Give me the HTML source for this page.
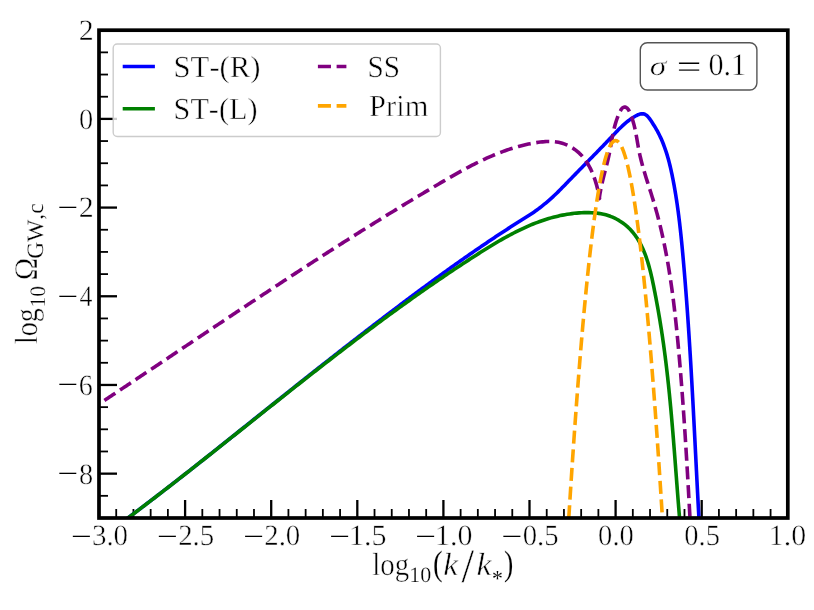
<!DOCTYPE html>
<html><head><meta charset="utf-8"><title>plot</title>
<style>
html,body{margin:0;padding:0;background:#fff;}
body{width:814px;height:610px;overflow:hidden;}
svg{display:block;will-change:transform;}
text{font-family:"Liberation Serif",serif;fill:#000;text-rendering:geometricPrecision;font-kerning:none;white-space:pre;stroke:#fff;stroke-width:0.5px;vector-effect:non-scaling-stroke;}
.sl{stroke-width:0.95px;}
.it{font-style:italic;}
</style></head><body>
<svg width="814" height="610" viewBox="0 0 814 610">
<rect width="814" height="610" fill="#fff"/>
<defs><clipPath id="ax"><rect x="99.0" y="30.2" width="688.8" height="487.8"/></clipPath></defs>
<g stroke="#000" fill="none">
<line x1="99.00" y1="518.00" x2="99.00" y2="500.00" stroke-width="2.30"/>
<line x1="116.22" y1="518.00" x2="116.22" y2="509.00" stroke-width="1.80"/>
<line x1="133.44" y1="518.00" x2="133.44" y2="509.00" stroke-width="1.80"/>
<line x1="150.66" y1="518.00" x2="150.66" y2="509.00" stroke-width="1.80"/>
<line x1="167.88" y1="518.00" x2="167.88" y2="509.00" stroke-width="1.80"/>
<line x1="185.10" y1="518.00" x2="185.10" y2="500.00" stroke-width="2.30"/>
<line x1="202.32" y1="518.00" x2="202.32" y2="509.00" stroke-width="1.80"/>
<line x1="219.54" y1="518.00" x2="219.54" y2="509.00" stroke-width="1.80"/>
<line x1="236.76" y1="518.00" x2="236.76" y2="509.00" stroke-width="1.80"/>
<line x1="253.98" y1="518.00" x2="253.98" y2="509.00" stroke-width="1.80"/>
<line x1="271.20" y1="518.00" x2="271.20" y2="500.00" stroke-width="2.30"/>
<line x1="288.42" y1="518.00" x2="288.42" y2="509.00" stroke-width="1.80"/>
<line x1="305.64" y1="518.00" x2="305.64" y2="509.00" stroke-width="1.80"/>
<line x1="322.86" y1="518.00" x2="322.86" y2="509.00" stroke-width="1.80"/>
<line x1="340.08" y1="518.00" x2="340.08" y2="509.00" stroke-width="1.80"/>
<line x1="357.30" y1="518.00" x2="357.30" y2="500.00" stroke-width="2.30"/>
<line x1="374.52" y1="518.00" x2="374.52" y2="509.00" stroke-width="1.80"/>
<line x1="391.74" y1="518.00" x2="391.74" y2="509.00" stroke-width="1.80"/>
<line x1="408.96" y1="518.00" x2="408.96" y2="509.00" stroke-width="1.80"/>
<line x1="426.18" y1="518.00" x2="426.18" y2="509.00" stroke-width="1.80"/>
<line x1="443.40" y1="518.00" x2="443.40" y2="500.00" stroke-width="2.30"/>
<line x1="460.62" y1="518.00" x2="460.62" y2="509.00" stroke-width="1.80"/>
<line x1="477.84" y1="518.00" x2="477.84" y2="509.00" stroke-width="1.80"/>
<line x1="495.06" y1="518.00" x2="495.06" y2="509.00" stroke-width="1.80"/>
<line x1="512.28" y1="518.00" x2="512.28" y2="509.00" stroke-width="1.80"/>
<line x1="529.50" y1="518.00" x2="529.50" y2="500.00" stroke-width="2.30"/>
<line x1="546.72" y1="518.00" x2="546.72" y2="509.00" stroke-width="1.80"/>
<line x1="563.94" y1="518.00" x2="563.94" y2="509.00" stroke-width="1.80"/>
<line x1="581.16" y1="518.00" x2="581.16" y2="509.00" stroke-width="1.80"/>
<line x1="598.38" y1="518.00" x2="598.38" y2="509.00" stroke-width="1.80"/>
<line x1="615.60" y1="518.00" x2="615.60" y2="500.00" stroke-width="2.30"/>
<line x1="632.82" y1="518.00" x2="632.82" y2="509.00" stroke-width="1.80"/>
<line x1="650.04" y1="518.00" x2="650.04" y2="509.00" stroke-width="1.80"/>
<line x1="667.26" y1="518.00" x2="667.26" y2="509.00" stroke-width="1.80"/>
<line x1="684.48" y1="518.00" x2="684.48" y2="509.00" stroke-width="1.80"/>
<line x1="701.70" y1="518.00" x2="701.70" y2="500.00" stroke-width="2.30"/>
<line x1="718.92" y1="518.00" x2="718.92" y2="509.00" stroke-width="1.80"/>
<line x1="736.14" y1="518.00" x2="736.14" y2="509.00" stroke-width="1.80"/>
<line x1="753.36" y1="518.00" x2="753.36" y2="509.00" stroke-width="1.80"/>
<line x1="770.58" y1="518.00" x2="770.58" y2="509.00" stroke-width="1.80"/>
<line x1="787.80" y1="518.00" x2="787.80" y2="500.00" stroke-width="2.30"/>
<line x1="99.00" y1="518.00" x2="108.00" y2="518.00" stroke-width="1.80"/>
<line x1="99.00" y1="495.83" x2="108.00" y2="495.83" stroke-width="1.80"/>
<line x1="99.00" y1="473.65" x2="117.00" y2="473.65" stroke-width="2.30"/>
<line x1="99.00" y1="451.48" x2="108.00" y2="451.48" stroke-width="1.80"/>
<line x1="99.00" y1="429.31" x2="108.00" y2="429.31" stroke-width="1.80"/>
<line x1="99.00" y1="407.14" x2="108.00" y2="407.14" stroke-width="1.80"/>
<line x1="99.00" y1="384.96" x2="117.00" y2="384.96" stroke-width="2.30"/>
<line x1="99.00" y1="362.79" x2="108.00" y2="362.79" stroke-width="1.80"/>
<line x1="99.00" y1="340.62" x2="108.00" y2="340.62" stroke-width="1.80"/>
<line x1="99.00" y1="318.45" x2="108.00" y2="318.45" stroke-width="1.80"/>
<line x1="99.00" y1="296.27" x2="117.00" y2="296.27" stroke-width="2.30"/>
<line x1="99.00" y1="274.10" x2="108.00" y2="274.10" stroke-width="1.80"/>
<line x1="99.00" y1="251.93" x2="108.00" y2="251.93" stroke-width="1.80"/>
<line x1="99.00" y1="229.75" x2="108.00" y2="229.75" stroke-width="1.80"/>
<line x1="99.00" y1="207.58" x2="117.00" y2="207.58" stroke-width="2.30"/>
<line x1="99.00" y1="185.41" x2="108.00" y2="185.41" stroke-width="1.80"/>
<line x1="99.00" y1="163.24" x2="108.00" y2="163.24" stroke-width="1.80"/>
<line x1="99.00" y1="141.06" x2="108.00" y2="141.06" stroke-width="1.80"/>
<line x1="99.00" y1="118.89" x2="117.00" y2="118.89" stroke-width="2.30"/>
<line x1="99.00" y1="96.72" x2="108.00" y2="96.72" stroke-width="1.80"/>
<line x1="99.00" y1="74.55" x2="108.00" y2="74.55" stroke-width="1.80"/>
<line x1="99.00" y1="52.37" x2="108.00" y2="52.37" stroke-width="1.80"/>
<line x1="99.00" y1="30.20" x2="117.00" y2="30.20" stroke-width="2.30"/>
</g>
<g clip-path="url(#ax)" fill="none" stroke-width="3.6" stroke-linejoin="round">
<path d="M96.00,539.81 L97.82,539.21 L99.55,538.46 L101.20,537.58 L102.79,536.60 L104.33,535.53 L105.85,534.42 L107.35,533.28 L108.85,532.13 L110.35,531.00 L111.86,529.87 L113.37,528.75 L114.88,527.64 L116.40,526.52 L117.92,525.41 L119.43,524.30 L120.94,523.18 L122.46,522.07 L123.97,520.95 L125.47,519.82 L126.98,518.70 L128.48,517.57 L129.99,516.44 L131.49,515.31 L132.99,514.18 L134.49,513.04 L135.99,511.91 L137.49,510.77 L138.99,509.63 L140.49,508.50 L141.98,507.36 L143.48,506.22 L144.98,505.08 L146.47,503.94 L147.97,502.80 L149.46,501.66 L150.96,500.51 L152.45,499.37 L153.94,498.23 L155.44,497.08 L156.93,495.94 L158.42,494.79 L159.91,493.64 L161.40,492.50 L162.89,491.35 L164.38,490.20 L165.87,489.05 L167.35,487.90 L168.84,486.75 L170.33,485.59 L171.81,484.44 L173.30,483.29 L174.78,482.13 L176.27,480.98 L177.75,479.82 L179.23,478.66 L180.72,477.51 L182.20,476.35 L183.68,475.19 L185.16,474.03 L186.64,472.87 L188.12,471.71 L189.60,470.55 L191.08,469.38 L192.55,468.22 L194.03,467.06 L195.51,465.89 L196.98,464.73 L198.46,463.56 L199.94,462.40 L201.41,461.23 L202.89,460.06 L204.36,458.90 L205.83,457.73 L207.31,456.56 L208.78,455.39 L210.25,454.22 L211.73,453.05 L213.20,451.88 L214.67,450.71 L216.14,449.54 L217.61,448.37 L219.09,447.20 L220.56,446.03 L222.03,444.85 L223.50,443.68 L224.97,442.51 L226.44,441.34 L227.91,440.16 L229.38,438.99 L230.85,437.82 L232.32,436.64 L233.79,435.47 L235.26,434.29 L236.73,433.12 L238.19,431.95 L239.66,430.77 L241.13,429.60 L242.60,428.42 L244.07,427.25 L245.54,426.07 L247.01,424.90 L248.48,423.72 L249.95,422.55 L251.41,421.38 L252.88,420.20 L254.35,419.03 L255.82,417.85 L257.29,416.68 L258.76,415.50 L260.23,414.33 L261.70,413.16 L263.17,411.98 L264.64,410.81 L266.11,409.63 L267.58,408.46 L269.05,407.29 L270.51,406.11 L271.98,404.94 L273.46,403.77 L274.93,402.59 L276.40,401.42 L277.87,400.25 L279.34,399.08 L280.81,397.90 L282.28,396.73 L283.75,395.56 L285.22,394.39 L286.69,393.22 L288.16,392.05 L289.64,390.88 L291.11,389.71 L292.58,388.53 L294.05,387.36 L295.53,386.19 L297.00,385.03 L298.47,383.86 L299.94,382.69 L301.42,381.52 L302.89,380.35 L304.37,379.18 L305.84,378.01 L307.31,376.85 L308.79,375.68 L310.26,374.51 L311.74,373.35 L313.22,372.18 L314.69,371.02 L316.17,369.85 L317.64,368.69 L319.12,367.52 L320.60,366.36 L322.08,365.19 L323.55,364.03 L325.03,362.87 L326.51,361.71 L327.99,360.54 L329.47,359.38 L330.95,358.22 L332.43,357.06 L333.91,355.90 L335.39,354.74 L336.87,353.58 L338.35,352.42 L339.83,351.26 L341.31,350.11 L342.80,348.95 L344.28,347.79 L345.76,346.64 L347.25,345.48 L348.73,344.33 L350.22,343.17 L351.70,342.02 L353.19,340.87 L354.67,339.71 L356.16,338.56 L357.65,337.41 L359.13,336.26 L360.62,335.11 L362.11,333.96 L363.60,332.81 L365.09,331.66 L366.58,330.51 L368.07,329.37 L369.56,328.22 L371.05,327.07 L372.54,325.93 L374.03,324.78 L375.53,323.64 L377.02,322.50 L378.51,321.35 L380.01,320.21 L381.50,319.07 L383.00,317.93 L384.50,316.79 L385.99,315.65 L387.49,314.52 L388.99,313.38 L390.49,312.24 L391.98,311.11 L393.48,309.97 L394.98,308.84 L396.49,307.70 L397.99,306.57 L399.49,305.44 L400.99,304.31 L402.50,303.18 L404.00,302.05 L405.50,300.92 L407.01,299.79 L408.52,298.67 L410.02,297.54 L411.53,296.42 L413.04,295.29 L414.55,294.17 L416.06,293.05 L417.57,291.93 L419.08,290.81 L420.59,289.69 L422.10,288.57 L423.62,287.45 L425.13,286.34 L426.65,285.22 L428.16,284.11 L429.68,283.00 L431.20,281.89 L432.72,280.78 L434.23,279.67 L435.76,278.56 L437.28,277.46 L438.80,276.35 L440.32,275.25 L441.85,274.15 L443.37,273.05 L444.90,271.95 L446.43,270.85 L447.95,269.76 L449.48,268.66 L451.01,267.57 L452.54,266.48 L454.08,265.39 L455.61,264.30 L457.14,263.21 L458.68,262.13 L460.22,261.05 L461.75,259.96 L463.29,258.88 L464.83,257.80 L466.37,256.73 L467.92,255.65 L469.46,254.58 L471.00,253.51 L472.55,252.44 L474.10,251.37 L475.65,250.30 L477.20,249.24 L478.75,248.18 L480.30,247.12 L481.85,246.06 L483.41,245.00 L484.96,243.95 L486.52,242.90 L488.08,241.85 L489.64,240.80 L491.20,239.75 L492.77,238.71 L494.33,237.66 L495.90,236.62 L497.46,235.59 L499.03,234.55 L500.60,233.52 L502.18,232.49 L503.75,231.46 L505.33,230.43 L506.90,229.41 L508.48,228.38 L510.06,227.36 L511.65,226.35 L513.23,225.33 L514.82,224.32 L516.40,223.31 L517.99,222.30 L519.59,221.29 L521.18,220.29 L522.77,219.29 L524.37,218.29 L525.96,217.29 L527.55,216.28 L529.14,215.27 L530.72,214.24 L532.28,213.20 L533.84,212.14 L535.38,211.06 L536.90,209.97 L538.42,208.85 L539.92,207.72 L541.41,206.57 L542.88,205.40 L544.35,204.22 L545.80,203.02 L547.23,201.81 L548.66,200.58 L550.07,199.34 L551.47,198.09 L552.86,196.82 L554.24,195.53 L555.60,194.24 L556.96,192.93 L558.30,191.61 L559.64,190.29 L560.96,188.95 L562.28,187.61 L563.60,186.26 L564.91,184.91 L566.22,183.56 L567.53,182.21 L568.84,180.86 L570.15,179.51 L571.46,178.16 L572.77,176.81 L574.08,175.47 L575.40,174.12 L576.71,172.78 L578.03,171.43 L579.34,170.09 L580.66,168.75 L581.97,167.41 L583.29,166.06 L584.60,164.72 L585.92,163.38 L587.23,162.04 L588.55,160.69 L589.86,159.35 L591.18,158.01 L592.49,156.67 L593.81,155.32 L595.12,153.98 L596.43,152.63 L597.74,151.28 L599.05,149.94 L600.36,148.59 L601.67,147.24 L602.98,145.89 L604.28,144.53 L605.59,143.18 L606.89,141.82 L608.19,140.47 L609.49,139.11 L610.79,137.74 L612.08,136.38 L613.38,135.01 L614.67,133.65 L615.97,132.29 L617.28,130.94 L618.60,129.60 L619.93,128.27 L621.28,126.96 L622.66,125.67 L624.05,124.40 L625.47,123.16 L626.92,121.96 L628.41,120.78 L629.93,119.64 L631.48,118.54 L633.09,117.49 L634.73,116.48 L636.43,115.53 L638.15,114.70 L639.88,114.08 L641.59,113.76 L643.26,113.83 L644.85,114.31 L646.32,115.18 L647.68,116.37 L648.93,117.81 L650.12,119.41 L651.24,121.09 L652.32,122.77 L653.37,124.42 L654.40,126.04 L655.39,127.66 L656.34,129.29 L657.27,130.94 L658.16,132.59 L659.01,134.26 L659.84,135.95 L660.64,137.64 L661.41,139.35 L662.15,141.06 L662.86,142.79 L663.55,144.53 L664.21,146.28 L664.85,148.03 L665.46,149.80 L666.06,151.57 L666.63,153.36 L667.18,155.15 L667.71,156.94 L668.22,158.75 L668.71,160.56 L669.19,162.37 L669.65,164.19 L670.09,166.02 L670.53,167.85 L670.94,169.68 L671.35,171.52 L671.74,173.35 L672.13,175.20 L672.50,177.04 L672.87,178.89 L673.23,180.73 L673.58,182.58 L673.92,184.43 L674.25,186.28 L674.58,188.13 L674.90,189.99 L675.22,191.84 L675.53,193.70 L675.83,195.55 L676.12,197.41 L676.41,199.27 L676.69,201.13 L676.97,202.98 L677.24,204.85 L677.50,206.71 L677.76,208.57 L678.02,210.43 L678.27,212.30 L678.51,214.16 L678.75,216.03 L678.98,217.89 L679.21,219.76 L679.44,221.62 L679.66,223.49 L679.87,225.36 L680.08,227.23 L680.29,229.10 L680.50,230.97 L680.70,232.84 L680.90,234.71 L681.09,236.58 L681.28,238.45 L681.47,240.32 L681.66,242.20 L681.84,244.07 L682.02,245.94 L682.20,247.82 L682.37,249.69 L682.54,251.56 L682.72,253.44 L682.89,255.31 L683.05,257.18 L683.22,259.06 L683.39,260.93 L683.55,262.81 L683.71,264.68 L683.87,266.55 L684.03,268.43 L684.19,270.30 L684.35,272.18 L684.51,274.05 L684.66,275.93 L684.81,277.80 L684.97,279.68 L685.12,281.55 L685.27,283.43 L685.42,285.30 L685.56,287.18 L685.71,289.05 L685.86,290.93 L686.00,292.80 L686.14,294.68 L686.29,296.55 L686.43,298.43 L686.57,300.30 L686.71,302.18 L686.84,304.06 L686.98,305.93 L687.12,307.81 L687.25,309.68 L687.39,311.56 L687.52,313.43 L687.65,315.31 L687.78,317.19 L687.91,319.06 L688.04,320.94 L688.17,322.81 L688.30,324.69 L688.42,326.57 L688.55,328.44 L688.67,330.32 L688.80,332.20 L688.92,334.07 L689.04,335.95 L689.16,337.82 L689.28,339.70 L689.40,341.58 L689.52,343.45 L689.64,345.33 L689.76,347.21 L689.87,349.08 L689.99,350.96 L690.10,352.84 L690.22,354.72 L690.33,356.59 L690.44,358.47 L690.56,360.35 L690.67,362.22 L690.78,364.10 L690.89,365.98 L691.00,367.85 L691.11,369.73 L691.22,371.61 L691.33,373.49 L691.43,375.36 L691.54,377.24 L691.65,379.12 L691.75,381.00 L691.86,382.87 L691.96,384.75 L692.07,386.63 L692.17,388.51 L692.27,390.38 L692.38,392.26 L692.48,394.14 L692.58,396.02 L692.68,397.89 L692.79,399.77 L692.89,401.65 L692.99,403.53 L693.09,405.40 L693.19,407.28 L693.29,409.16 L693.39,411.04 L693.49,412.92 L693.58,414.79 L693.68,416.67 L693.78,418.55 L693.88,420.43 L693.98,422.31 L694.07,424.18 L694.17,426.06 L694.27,427.94 L694.36,429.82 L694.46,431.70 L694.56,433.57 L694.65,435.45 L694.75,437.33 L694.85,439.21 L694.94,441.09 L695.04,442.96 L695.13,444.84 L695.23,446.72 L695.32,448.60 L695.42,450.48 L695.51,452.36 L695.61,454.23 L695.71,456.11 L695.80,457.99 L695.90,459.87 L695.99,461.75 L696.09,463.63 L696.18,465.50 L696.28,467.38 L696.37,469.26 L696.47,471.14 L696.57,473.02 L696.66,474.89 L696.76,476.77 L696.85,478.65 L696.95,480.53 L697.05,482.41 L697.14,484.29 L697.24,486.17 L697.34,488.04 L697.44,489.92 L697.53,491.80 L697.63,493.68 L697.73,495.56 L697.83,497.44 L697.93,499.31 L698.02,501.19 L698.12,503.07 L698.22,504.95 L698.32,506.83 L698.42,508.71 L698.52,510.58 L698.63,512.46 L698.73,514.34 L698.83,516.22 L698.93,518.10 L699.03,519.98 L699.14,521.85 L699.24,523.73 L699.34,525.61 L699.45,527.49 L699.55,529.37 L699.66,531.24 L699.76,533.12 L699.87,535.00" stroke="#0000ff"/>
<path d="M98.30,539.82 L100.24,538.41 L102.18,537.00 L104.13,535.59 L106.07,534.17 L108.00,532.75 L109.94,531.33 L111.87,529.91 L113.81,528.49 L115.74,527.06 L117.67,525.64 L119.60,524.21 L121.52,522.78 L123.45,521.34 L125.37,519.91 L127.29,518.47 L129.21,517.04 L131.13,515.60 L133.04,514.16 L134.96,512.72 L136.87,511.27 L138.78,509.83 L140.69,508.38 L142.60,506.93 L144.51,505.48 L146.42,504.03 L148.32,502.58 L150.23,501.12 L152.13,499.67 L154.03,498.21 L155.93,496.76 L157.83,495.30 L159.73,493.84 L161.62,492.37 L163.52,490.91 L165.41,489.45 L167.31,487.98 L169.20,486.52 L171.09,485.05 L172.98,483.58 L174.87,482.11 L176.76,480.64 L178.64,479.17 L180.53,477.70 L182.41,476.23 L184.30,474.75 L186.18,473.28 L188.06,471.80 L189.95,470.33 L191.83,468.85 L193.71,467.37 L195.59,465.89 L197.47,464.42 L199.34,462.94 L201.22,461.45 L203.10,459.97 L204.97,458.49 L206.85,457.01 L208.72,455.53 L210.60,454.04 L212.47,452.56 L214.35,451.08 L216.22,449.59 L218.09,448.11 L219.96,446.62 L221.84,445.13 L223.71,443.65 L225.58,442.16 L227.45,440.67 L229.32,439.19 L231.19,437.70 L233.06,436.21 L234.93,434.73 L236.80,433.24 L238.67,431.75 L240.53,430.26 L242.40,428.77 L244.27,427.29 L246.14,425.80 L248.01,424.31 L249.88,422.82 L251.74,421.33 L253.61,419.85 L255.48,418.36 L257.35,416.87 L259.22,415.38 L261.09,413.90 L262.95,412.41 L264.82,410.92 L266.69,409.43 L268.56,407.95 L270.43,406.46 L272.30,404.98 L274.17,403.49 L276.04,402.01 L277.91,400.52 L279.78,399.04 L281.65,397.56 L283.52,396.07 L285.39,394.59 L287.27,393.11 L289.14,391.63 L291.01,390.15 L292.88,388.67 L294.76,387.19 L296.63,385.71 L298.51,384.23 L300.38,382.75 L302.26,381.28 L304.14,379.80 L306.01,378.33 L307.89,376.85 L309.77,375.38 L311.65,373.91 L313.53,372.44 L315.41,370.97 L317.29,369.50 L319.18,368.03 L321.06,366.56 L322.94,365.10 L324.83,363.63 L326.71,362.17 L328.60,360.71 L330.49,359.25 L332.38,357.79 L334.27,356.33 L336.16,354.87 L338.05,353.41 L339.94,351.96 L341.84,350.50 L343.73,349.05 L345.63,347.60 L347.53,346.15 L349.43,344.70 L351.33,343.26 L353.23,341.81 L355.13,340.37 L357.04,338.92 L358.94,337.48 L360.85,336.04 L362.75,334.61 L364.66,333.17 L366.57,331.74 L368.49,330.30 L370.40,328.87 L372.31,327.45 L374.23,326.02 L376.15,324.59 L378.07,323.17 L379.99,321.75 L381.91,320.33 L383.84,318.91 L385.76,317.49 L387.69,316.08 L389.62,314.67 L391.55,313.26 L393.48,311.85 L395.42,310.44 L397.35,309.04 L399.29,307.64 L401.23,306.24 L403.17,304.84 L405.12,303.45 L407.06,302.05 L409.01,300.66 L410.96,299.28 L412.91,297.89 L414.86,296.51 L416.82,295.12 L418.78,293.75 L420.73,292.37 L422.70,290.99 L424.66,289.62 L426.63,288.25 L428.59,286.89 L430.56,285.52 L432.54,284.16 L434.51,282.80 L436.49,281.45 L438.47,280.09 L440.45,278.74 L442.43,277.39 L444.42,276.05 L446.40,274.71 L448.39,273.37 L450.39,272.03 L452.38,270.69 L454.38,269.36 L456.38,268.03 L458.38,266.71 L460.39,265.39 L462.40,264.07 L464.41,262.75 L466.42,261.44 L468.44,260.12 L470.46,258.82 L472.48,257.51 L474.50,256.21 L476.53,254.91 L478.56,253.62 L480.59,252.33 L482.63,251.04 L484.66,249.76 L486.71,248.49 L488.76,247.23 L490.81,245.97 L492.86,244.73 L494.92,243.49 L496.99,242.27 L499.06,241.05 L501.14,239.86 L503.22,238.67 L505.31,237.50 L507.40,236.35 L509.50,235.21 L511.61,234.09 L513.73,232.99 L515.85,231.90 L517.98,230.84 L520.11,229.80 L522.26,228.78 L524.41,227.78 L526.57,226.81 L528.74,225.86 L530.92,224.93 L533.11,224.03 L535.31,223.16 L537.52,222.32 L539.73,221.50 L541.96,220.72 L544.20,219.96 L546.45,219.24 L548.71,218.55 L550.98,217.89 L553.26,217.27 L555.55,216.68 L557.86,216.13 L560.17,215.61 L562.50,215.13 L564.84,214.69 L567.20,214.29 L569.57,213.92 L571.95,213.60 L574.34,213.32 L576.75,213.09 L579.17,212.89 L581.61,212.74 L584.06,212.64 L586.51,212.60 L588.96,212.61 L591.42,212.69 L593.86,212.84 L596.29,213.06 L598.70,213.37 L601.09,213.76 L603.46,214.25 L605.79,214.83 L608.09,215.51 L610.34,216.30 L612.55,217.19 L614.72,218.17 L616.83,219.25 L618.89,220.42 L620.88,221.67 L622.82,223.00 L624.69,224.41 L626.49,225.90 L628.22,227.45 L629.87,229.07 L631.44,230.75 L632.95,232.50 L634.38,234.30 L635.74,236.16 L637.04,238.07 L638.27,240.03 L639.45,242.03 L640.56,244.09 L641.62,246.18 L642.63,248.31 L643.58,250.48 L644.49,252.69 L645.35,254.93 L646.17,257.19 L646.95,259.49 L647.69,261.80 L648.39,264.14 L649.06,266.50 L649.70,268.88 L650.32,271.26 L650.90,273.66 L651.47,276.07 L652.01,278.48 L652.53,280.90 L653.04,283.32 L653.53,285.73 L654.02,288.14 L654.49,290.55 L654.96,292.94 L655.42,295.33 L655.88,297.71 L656.32,300.09 L656.76,302.46 L657.20,304.83 L657.62,307.19 L658.04,309.54 L658.45,311.89 L658.86,314.24 L659.26,316.58 L659.65,318.92 L660.03,321.26 L660.41,323.60 L660.79,325.93 L661.16,328.27 L661.52,330.60 L661.87,332.93 L662.23,335.26 L662.57,337.59 L662.91,339.93 L663.24,342.26 L663.57,344.60 L663.90,346.93 L664.21,349.27 L664.53,351.62 L664.83,353.96 L665.14,356.31 L665.44,358.66 L665.73,361.02 L666.02,363.37 L666.31,365.73 L666.59,368.09 L666.86,370.45 L667.13,372.82 L667.40,375.18 L667.67,377.55 L667.93,379.93 L668.18,382.30 L668.44,384.67 L668.68,387.05 L668.93,389.43 L669.17,391.81 L669.41,394.19 L669.65,396.57 L669.88,398.96 L670.11,401.34 L670.33,403.73 L670.56,406.12 L670.78,408.51 L671.00,410.90 L671.21,413.29 L671.43,415.68 L671.64,418.08 L671.84,420.47 L672.05,422.86 L672.25,425.26 L672.46,427.65 L672.66,430.05 L672.86,432.45 L673.05,434.84 L673.25,437.24 L673.44,439.64 L673.63,442.04 L673.82,444.43 L674.01,446.83 L674.20,449.23 L674.39,451.62 L674.58,454.02 L674.76,456.42 L674.95,458.81 L675.13,461.21 L675.31,463.60 L675.50,466.00 L675.68,468.39 L675.86,470.79 L676.04,473.18 L676.23,475.57 L676.41,477.96 L676.59,480.35 L676.77,482.74 L676.96,485.12 L677.14,487.51 L677.32,489.89 L677.51,492.28 L677.69,494.66 L677.88,497.04 L678.06,499.41 L678.25,501.79 L678.44,504.17 L678.63,506.54 L678.82,508.91 L679.01,511.28 L679.20,513.65 L679.40,516.01 L679.60,518.37 L679.79,520.73 L679.99,523.09 L680.20,525.45 L680.40,527.80 L680.61,530.15 L680.81,532.50 L681.02,534.84" stroke="#008000"/>
<path d="M104.43,400.40 L106.11,399.28 L107.79,398.17 L109.47,397.05 L111.15,395.94 L112.83,394.83 L114.51,393.71 L116.19,392.60 L117.86,391.48 L119.54,390.36 L121.22,389.25 L122.89,388.13 L124.57,387.02 L126.25,385.90 L127.92,384.78 L129.60,383.67 L131.27,382.55 L132.95,381.43 L134.62,380.31 L136.30,379.20 L137.97,378.08 L139.65,376.96 L141.32,375.84 L142.99,374.72 L144.67,373.60 L146.34,372.49 L148.02,371.37 L149.69,370.25 L151.36,369.13 L153.03,368.01 L154.71,366.89 L156.38,365.77 L158.05,364.65 L159.73,363.53 L161.40,362.41 L163.07,361.30 L164.74,360.18 L166.41,359.06 L168.09,357.94 L169.76,356.82 L171.43,355.70 L173.10,354.58 L174.77,353.46 L176.44,352.34 L178.12,351.22 L179.79,350.10 L181.46,348.98 L183.13,347.86 L184.80,346.74 L186.47,345.62 L188.14,344.50 L189.81,343.39 L191.49,342.27 L193.16,341.15 L194.83,340.03 L196.50,338.91 L198.17,337.79 L199.84,336.67 L201.51,335.56 L203.18,334.44 L204.86,333.32 L206.53,332.20 L208.20,331.08 L209.87,329.97 L211.54,328.85 L213.21,327.73 L214.89,326.61 L216.56,325.50 L218.23,324.38 L219.90,323.27 L221.57,322.15 L223.25,321.03 L224.92,319.92 L226.59,318.80 L228.26,317.69 L229.94,316.57 L231.61,315.46 L233.28,314.34 L234.96,313.23 L236.63,312.12 L238.30,311.00 L239.98,309.89 L241.65,308.78 L243.33,307.66 L245.00,306.55 L246.67,305.44 L248.35,304.33 L250.02,303.22 L251.70,302.11 L253.37,301.00 L255.05,299.89 L256.73,298.78 L258.40,297.67 L260.08,296.56 L261.76,295.45 L263.43,294.34 L265.11,293.24 L266.79,292.13 L268.47,291.02 L270.14,289.92 L271.82,288.81 L273.50,287.71 L275.18,286.60 L276.86,285.50 L278.54,284.39 L280.22,283.29 L281.90,282.19 L283.58,281.09 L285.26,279.98 L286.94,278.88 L288.62,277.78 L290.31,276.68 L291.99,275.58 L293.67,274.48 L295.35,273.38 L297.04,272.29 L298.72,271.19 L300.41,270.09 L302.09,269.00 L303.78,267.90 L305.46,266.81 L307.15,265.71 L308.83,264.62 L310.52,263.53 L312.21,262.43 L313.90,261.34 L315.59,260.25 L317.27,259.16 L318.96,258.07 L320.65,256.98 L322.34,255.89 L324.03,254.81 L325.73,253.72 L327.42,252.63 L329.11,251.55 L330.80,250.46 L332.50,249.38 L334.19,248.29 L335.88,247.21 L337.58,246.13 L339.28,245.05 L340.97,243.97 L342.67,242.89 L344.37,241.81 L346.06,240.73 L347.76,239.66 L349.46,238.58 L351.16,237.50 L352.86,236.43 L354.56,235.36 L356.26,234.28 L357.96,233.21 L359.67,232.14 L361.37,231.07 L363.07,230.00 L364.78,228.93 L366.48,227.86 L368.19,226.80 L369.90,225.73 L371.60,224.67 L373.31,223.60 L375.02,222.54 L376.73,221.48 L378.44,220.42 L380.15,219.36 L381.86,218.30 L383.57,217.24 L385.29,216.18 L387.00,215.12 L388.71,214.07 L390.43,213.01 L392.15,211.96 L393.86,210.91 L395.58,209.86 L397.30,208.81 L399.02,207.76 L400.74,206.71 L402.46,205.66 L404.18,204.62 L405.90,203.57 L407.62,202.53 L409.35,201.48 L411.07,200.44 L412.80,199.40 L414.52,198.36 L416.25,197.32 L417.98,196.29 L419.70,195.25 L421.43,194.22 L423.16,193.18 L424.90,192.15 L426.63,191.12 L428.36,190.09 L430.09,189.06 L431.83,188.03 L433.57,187.00 L435.30,185.98 L437.04,184.95 L438.78,183.93 L440.52,182.91 L442.26,181.89 L444.00,180.87 L445.74,179.85 L447.49,178.84 L449.23,177.83 L450.98,176.82 L452.73,175.82 L454.48,174.82 L456.24,173.83 L457.99,172.85 L459.75,171.87 L461.52,170.89 L463.28,169.92 L465.05,168.97 L466.83,168.01 L468.60,167.07 L470.38,166.14 L472.17,165.21 L473.95,164.30 L475.75,163.39 L477.54,162.50 L479.34,161.62 L481.15,160.75 L482.96,159.89 L484.78,159.04 L486.60,158.21 L488.43,157.39 L490.26,156.58 L492.10,155.79 L493.94,155.01 L495.79,154.25 L497.65,153.51 L499.51,152.78 L501.38,152.06 L503.26,151.37 L505.14,150.69 L507.03,150.03 L508.93,149.39 L510.84,148.77 L512.75,148.17 L514.67,147.58 L516.60,147.02 L518.54,146.48 L520.49,145.96 L522.44,145.46 L524.40,144.98 L526.38,144.53 L528.36,144.10 L530.35,143.69 L532.35,143.31 L534.36,142.95 L536.37,142.62 L538.40,142.32 L540.43,142.06 L542.46,141.84 L544.49,141.67 L546.51,141.55 L548.53,141.50 L550.54,141.51 L552.54,141.59 L554.53,141.75 L556.50,141.99 L558.45,142.32 L560.38,142.74 L562.28,143.26 L564.16,143.88 L566.01,144.58 L567.82,145.38 L569.60,146.26 L571.33,147.23 L573.03,148.27 L574.68,149.40 L576.28,150.59 L577.82,151.86 L579.31,153.20 L580.75,154.61 L582.12,156.08 L583.43,157.61 L584.67,159.19 L585.86,160.83 L586.98,162.52 L588.05,164.25 L589.06,166.02 L590.02,167.83 L590.93,169.67 L591.79,171.54 L592.60,173.43 L593.37,175.34 L594.09,177.27 L594.76,179.21 L595.40,181.16 L596.00,183.11 L596.56,185.06 L597.08,187.01 L597.57,188.95 L598.03,190.87 L598.45,192.79 L598.85,194.68 L599.22,196.55 L599.56,198.40 L599.29,198.54 L599.52,196.80 L599.77,195.05 L600.06,193.31 L600.36,191.57 L600.69,189.83 L601.03,188.08 L601.40,186.34 L601.78,184.60 L602.17,182.86 L602.58,181.12 L603.00,179.38 L603.43,177.65 L603.87,175.91 L604.31,174.17 L604.75,172.43 L605.20,170.69 L605.64,168.96 L606.09,167.22 L606.53,165.48 L606.97,163.75 L607.40,162.01 L607.82,160.27 L608.23,158.54 L608.62,156.80 L609.00,155.06 L609.37,153.33 L609.72,151.59 L610.05,149.86 L610.38,148.12 L610.69,146.38 L611.00,144.64 L611.30,142.91 L611.60,141.17 L611.91,139.43 L612.23,137.69 L612.56,135.95 L612.90,134.21 L613.25,132.47 L613.63,130.73 L614.03,128.98 L614.46,127.24 L614.92,125.49 L615.41,123.75 L615.93,122.00 L616.50,120.25 L617.11,118.50 L617.76,116.75 L618.46,114.99 L619.22,113.24 L620.03,111.51 L620.92,109.90 L621.89,108.55 L622.96,107.55 L624.15,107.04 L625.45,107.12 L626.76,107.78 L627.92,108.95 L628.92,110.52 L629.79,112.32 L630.55,114.21 L631.25,116.06 L631.89,117.84 L632.47,119.58 L633.01,121.28 L633.50,122.96 L633.96,124.64 L634.39,126.33 L634.79,128.04 L635.17,129.76 L635.53,131.48 L635.87,133.22 L636.19,134.96 L636.51,136.71 L636.81,138.46 L637.11,140.22 L637.41,141.98 L637.71,143.74 L638.02,145.51 L638.33,147.27 L638.66,149.03 L639.00,150.79 L639.35,152.54 L639.72,154.29 L640.11,156.04 L640.52,157.78 L640.94,159.51 L641.38,161.25 L641.83,162.98 L642.29,164.70 L642.76,166.43 L643.25,168.15 L643.74,169.87 L644.25,171.58 L644.76,173.30 L645.28,175.01 L645.80,176.72 L646.33,178.43 L646.87,180.14 L647.41,181.84 L647.95,183.55 L648.49,185.25 L649.04,186.96 L649.58,188.66 L650.12,190.37 L650.67,192.07 L651.21,193.78 L651.74,195.48 L652.27,197.19 L652.80,198.90 L653.32,200.61 L653.83,202.32 L654.34,204.03 L654.84,205.75 L655.33,207.46 L655.82,209.18 L656.30,210.90 L656.77,212.62 L657.24,214.34 L657.69,216.06 L658.15,217.79 L658.59,219.51 L659.03,221.24 L659.47,222.97 L659.89,224.70 L660.31,226.43 L660.73,228.16 L661.14,229.90 L661.54,231.63 L661.94,233.37 L662.33,235.10 L662.71,236.84 L663.09,238.58 L663.47,240.33 L663.84,242.07 L664.20,243.81 L664.56,245.56 L664.91,247.30 L665.26,249.05 L665.60,250.80 L665.94,252.55 L666.27,254.30 L666.59,256.05 L666.92,257.80 L667.23,259.55 L667.54,261.31 L667.85,263.06 L668.16,264.82 L668.45,266.57 L668.75,268.33 L669.04,270.09 L669.32,271.85 L669.60,273.61 L669.88,275.37 L670.15,277.13 L670.42,278.90 L670.68,280.66 L670.94,282.42 L671.20,284.19 L671.45,285.95 L671.70,287.72 L671.95,289.49 L672.19,291.26 L672.43,293.02 L672.66,294.79 L672.89,296.56 L673.12,298.33 L673.35,300.10 L673.57,301.87 L673.79,303.64 L674.00,305.42 L674.22,307.19 L674.42,308.96 L674.63,310.74 L674.84,312.51 L675.04,314.28 L675.24,316.06 L675.43,317.83 L675.62,319.61 L675.82,321.39 L676.00,323.16 L676.19,324.94 L676.38,326.71 L676.56,328.49 L676.74,330.27 L676.92,332.05 L677.09,333.82 L677.27,335.60 L677.44,337.38 L677.61,339.16 L677.78,340.94 L677.95,342.71 L678.11,344.49 L678.28,346.27 L678.44,348.05 L678.60,349.83 L678.76,351.61 L678.92,353.38 L679.08,355.16 L679.24,356.94 L679.39,358.72 L679.55,360.50 L679.70,362.28 L679.85,364.06 L680.01,365.84 L680.15,367.61 L680.30,369.39 L680.45,371.17 L680.60,372.95 L680.74,374.73 L680.89,376.51 L681.03,378.29 L681.17,380.07 L681.31,381.85 L681.46,383.62 L681.59,385.40 L681.73,387.18 L681.87,388.96 L682.01,390.74 L682.14,392.52 L682.28,394.30 L682.41,396.08 L682.54,397.86 L682.67,399.64 L682.80,401.42 L682.93,403.20 L683.06,404.98 L683.19,406.76 L683.32,408.53 L683.44,410.31 L683.57,412.09 L683.69,413.87 L683.82,415.65 L683.94,417.43 L684.06,419.21 L684.18,420.99 L684.30,422.77 L684.42,424.55 L684.54,426.33 L684.66,428.11 L684.78,429.89 L684.90,431.67 L685.01,433.45 L685.13,435.23 L685.24,437.01 L685.36,438.79 L685.47,440.57 L685.59,442.35 L685.70,444.13 L685.81,445.91 L685.92,447.70 L686.03,449.48 L686.14,451.26 L686.25,453.04 L686.36,454.82 L686.47,456.60 L686.58,458.38 L686.69,460.16 L686.79,461.94 L686.90,463.72 L687.01,465.50 L687.11,467.28 L687.22,469.06 L687.32,470.85 L687.43,472.63 L687.53,474.41 L687.63,476.19 L687.74,477.97 L687.84,479.75 L687.94,481.53 L688.05,483.32 L688.15,485.10 L688.25,486.88 L688.35,488.66 L688.45,490.44 L688.55,492.22 L688.65,494.01 L688.75,495.79 L688.85,497.57 L688.95,499.35 L689.05,501.13 L689.15,502.92 L689.25,504.70 L689.35,506.48 L689.45,508.26 L689.55,510.05 L689.65,511.83 L689.75,513.61 L689.84,515.39 L689.94,517.18 L690.04,518.96 L690.14,520.74 L690.24,522.52 L690.33,524.31 L690.43,526.09 L690.53,527.87 L690.63,529.66 L690.73,531.44 L690.82,533.22 L690.92,535.01" stroke="#800080" stroke-dasharray="13.06 5.64" stroke-dashoffset="0"/>
<path d="M563.94,600.11 L564.37,592.49 L564.80,584.93 L565.23,577.43 L565.66,569.99 L566.09,562.62 L566.52,555.31 L566.95,548.07 L567.38,540.89 L567.81,533.77 L568.25,526.72 L568.68,519.73 L569.11,512.81 L569.54,505.95 L569.97,499.15 L570.40,492.42 L570.83,485.75 L571.26,479.15 L571.69,472.60 L572.12,466.13 L572.55,459.71 L572.98,453.36 L573.41,447.08 L573.84,440.86 L574.27,434.70 L574.70,428.60 L575.13,422.57 L575.56,416.60 L575.99,410.70 L576.42,404.86 L576.86,399.09 L577.29,393.37 L577.72,387.73 L578.15,382.14 L578.58,376.62 L579.01,371.17 L579.44,365.77 L579.87,360.44 L580.30,355.18 L580.73,349.98 L581.16,344.84 L581.59,339.77 L582.02,334.76 L582.45,329.81 L582.88,324.93 L583.31,320.11 L583.74,315.36 L584.17,310.66 L584.60,306.04 L585.03,301.48 L585.46,296.98 L585.90,292.54 L586.33,288.17 L586.76,283.86 L587.19,279.62 L587.62,275.44 L588.05,271.32 L588.48,267.27 L588.91,263.28 L589.34,259.35 L589.77,255.49 L590.20,251.70 L590.63,247.96 L591.06,244.29 L591.49,240.69 L591.92,237.15 L592.35,233.67 L592.78,230.25 L593.21,226.90 L593.64,223.62 L594.08,220.39 L594.51,217.23 L594.94,214.14 L595.37,211.11 L595.80,208.14 L596.23,205.24 L596.66,202.40 L597.09,199.62 L597.52,196.91 L597.95,194.26 L598.38,191.68 L598.81,189.15 L599.24,186.70 L599.67,184.30 L600.10,181.97 L600.53,179.71 L600.96,177.51 L601.39,175.37 L601.82,173.30 L602.25,171.29 L602.68,169.34 L603.12,167.46 L603.55,165.64 L603.98,163.88 L604.41,162.19 L604.84,160.56 L605.27,159.00 L605.70,157.50 L606.13,156.06 L606.56,154.69 L606.99,153.38 L607.42,152.14 L607.85,150.96 L608.28,149.84 L608.71,148.79 L609.14,147.80 L609.57,146.87 L610.00,146.01 L610.43,145.22 L610.86,144.48 L611.29,143.81 L611.73,143.20 L612.16,142.66 L612.59,142.18 L613.02,141.77 L613.45,141.42 L613.88,141.13 L614.31,140.91 L614.74,140.75 L615.17,140.65 L615.60,140.62 L616.03,140.65 L616.46,140.75 L616.89,140.91 L617.32,141.13 L617.75,141.42 L618.18,141.77 L618.61,142.18 L619.04,142.66 L619.47,143.20 L619.90,143.81 L620.34,144.48 L620.77,145.22 L621.20,146.01 L621.63,146.87 L622.06,147.80 L622.49,148.79 L622.92,149.84 L623.35,150.96 L623.78,152.14 L624.21,153.38 L624.64,154.69 L625.07,156.06 L625.50,157.50 L625.93,159.00 L626.36,160.56 L626.79,162.19 L627.22,163.88 L627.65,165.64 L628.08,167.46 L628.51,169.34 L628.95,171.29 L629.38,173.30 L629.81,175.37 L630.24,177.51 L630.67,179.71 L631.10,181.97 L631.53,184.30 L631.96,186.70 L632.39,189.15 L632.82,191.68 L633.25,194.26 L633.68,196.91 L634.11,199.62 L634.54,202.40 L634.97,205.24 L635.40,208.14 L635.83,211.11 L636.26,214.14 L636.69,217.23 L637.12,220.39 L637.56,223.62 L637.99,226.90 L638.42,230.25 L638.85,233.67 L639.28,237.15 L639.71,240.69 L640.14,244.29 L640.57,247.96 L641.00,251.70 L641.43,255.49 L641.86,259.35 L642.29,263.28 L642.72,267.27 L643.15,271.32 L643.58,275.44 L644.01,279.62 L644.44,283.86 L644.87,288.17 L645.30,292.54 L645.73,296.98 L646.17,301.48 L646.60,306.04 L647.03,310.66 L647.46,315.36 L647.89,320.11 L648.32,324.93 L648.75,329.81 L649.18,334.76 L649.61,339.77 L650.04,344.84 L650.47,349.98 L650.90,355.18 L651.33,360.44 L651.76,365.77 L652.19,371.17 L652.62,376.62 L653.05,382.14 L653.48,387.73 L653.91,393.37 L654.35,399.09 L654.78,404.86 L655.21,410.70 L655.64,416.60 L656.07,422.57 L656.50,428.60 L656.93,434.70 L657.36,440.86 L657.79,447.08 L658.22,453.36 L658.65,459.71 L659.08,466.13 L659.51,472.60 L659.94,479.15 L660.37,485.75 L660.80,492.42 L661.23,499.15 L661.66,505.95 L662.09,512.81 L662.52,519.73 L662.95,526.72 L663.39,533.77 L663.82,540.89 L664.25,548.07 L664.68,555.31 L665.11,562.62 L665.54,569.99 L665.97,577.43 L666.40,584.93 L666.83,592.49 L667.26,600.11" stroke="#ffa500" stroke-dasharray="13.06 5.64" stroke-dashoffset="11.54"/>
</g>
<rect x="99.0" y="30.2" width="688.8" height="487.8" fill="none" stroke="#000" stroke-width="3.7" stroke-linejoin="miter"/>
<!-- legend -->
<rect x="113.2" y="44.0" width="327.2" height="92.5" rx="4" ry="4" fill="#fff" fill-opacity="0.8" stroke="#cccccc" stroke-width="1.4"/>
<line x1="122.7" y1="66.5" x2="154.9" y2="66.5" stroke="#0000ff" stroke-width="3.6"/>
<line x1="122.7" y1="108.7" x2="154.9" y2="108.7" stroke="#008000" stroke-width="3.6"/>
<line x1="317.9" y1="66.5" x2="346.4" y2="66.5" stroke="#800080" stroke-width="3.6" stroke-dasharray="13.06 5.64"/>
<line x1="317.9" y1="105.9" x2="346.4" y2="105.9" stroke="#ffa500" stroke-width="3.6" stroke-dasharray="13.06 5.64"/>
<!-- sigma box -->
<rect x="640.3" y="42.7" width="116.6" height="47.3" rx="7" ry="7" fill="#fff" stroke="#555" stroke-width="1.4"/>
<g id="labels">
<text transform="translate(173.55,76.90) scale(1.0004,1)" font-size="30.70">ST-(R)</text>
<text transform="translate(173.58,119.10) scale(0.9848,1)" font-size="30.70">ST-(L)</text>
<text transform="translate(367.54,76.50) scale(0.9539,1)" font-size="30.70">SS</text>
<text transform="translate(369.12,115.80) scale(0.9924,1)" font-size="30.70">Prim</text>
<text class="it" transform="translate(649.70,74.50) scale(1.2192,1)" font-size="27.50">σ</text>
<text transform="translate(676.63,77.92) scale(0.4362,0.3440)" font-size="100" style="stroke-width:0.55px">=</text>
<text transform="translate(708.45,74.50) scale(0.9652,1)" font-size="31.30">0.1</text>
<text transform="translate(372.32,574.50) scale(0.9031,1)" font-size="32.00">log</text>
<text transform="translate(409.27,581.90) scale(0.9985,1)" font-size="22.00" style="stroke-width:0.25px">10</text>
<text transform="translate(433.03,575.31) scale(0.2881,0.3518)" font-size="100">(</text>
<text class="it" transform="translate(443.34,574.50) scale(1.0400,1)" font-size="32.00">k</text>
<text transform="translate(461.60,582.23) scale(0.4535,0.4814)" font-size="100" style="stroke-width:0.95px">/</text>
<text class="it" transform="translate(476.53,574.50) scale(1.0545,1)" font-size="32.00">k</text>
<text transform="translate(491.93,585.60) scale(0.2182,0.2291)" font-size="100" style="stroke-width:0.25px">*</text>
<text transform="translate(504.10,575.31) scale(0.2803,0.3518)" font-size="100">)</text>
<g transform="translate(37.2,343.6) rotate(-90)"><text transform="translate(-0.36,0.00) scale(0.8728,1)" font-size="32.00">log</text><text transform="translate(36.21,7.70) scale(0.9777,1)" font-size="22.00" style="stroke-width:0.25px">10</text><text transform="translate(63.43,0.00) scale(0.9191,1)" font-size="33.00">Ω</text><text transform="translate(84.94,5.40) scale(0.9950,1)" font-size="23.50" style="stroke-width:0.25px">GW,c</text></g>
</g>
<g id="ticklabels">
<text transform="translate(70.97,545.42) scale(0.3675,0.2610)" font-size="100" style="stroke:none">−</text>
<text transform="translate(91.91,544.50) scale(0.9814,1)" font-size="29.50">3.0</text>
<text transform="translate(157.07,545.42) scale(0.3675,0.2610)" font-size="100" style="stroke:none">−</text>
<text transform="translate(178.13,544.50) scale(0.9789,1)" font-size="29.50">2.5</text>
<text transform="translate(243.17,545.42) scale(0.3675,0.2610)" font-size="100" style="stroke:none">−</text>
<text transform="translate(264.23,544.50) scale(0.9781,1)" font-size="29.50">2.0</text>
<text transform="translate(329.27,545.42) scale(0.3675,0.2610)" font-size="100" style="stroke:none">−</text>
<text transform="translate(348.96,544.50) scale(1.0172,1)" font-size="29.50">1.5</text>
<text transform="translate(415.37,545.42) scale(0.3675,0.2610)" font-size="100" style="stroke:none">−</text>
<text transform="translate(435.06,544.50) scale(1.0163,1)" font-size="29.50">1.0</text>
<text transform="translate(501.47,545.42) scale(0.3675,0.2610)" font-size="100" style="stroke:none">−</text>
<text transform="translate(522.71,544.50) scale(0.9740,1)" font-size="29.50">0.5</text>
<text transform="translate(598.11,544.50) scale(0.9674,1)" font-size="29.50">0.0</text>
<text transform="translate(684.21,544.50) scale(0.9682,1)" font-size="29.50">0.5</text>
<text transform="translate(768.78,544.50) scale(1.0103,1)" font-size="29.50">1.0</text>
<text transform="translate(78.68,40.05) scale(1.0147,1)" font-size="29.50">2</text>
<text transform="translate(78.92,128.74) scale(0.9598,1)" font-size="29.50">0</text>
<text transform="translate(78.68,217.43) scale(1.0147,1)" font-size="29.50">2</text>
<text transform="translate(57.58,215.85) scale(0.3653,0.2610)" font-size="100" style="stroke:none">−</text>
<text transform="translate(79.50,306.12) scale(0.8751,1)" font-size="29.50">4</text>
<text transform="translate(57.58,304.54) scale(0.3653,0.2610)" font-size="100" style="stroke:none">−</text>
<text transform="translate(78.79,394.81) scale(0.9521,1)" font-size="29.50">6</text>
<text transform="translate(57.58,393.23) scale(0.3653,0.2610)" font-size="100" style="stroke:none">−</text>
<text transform="translate(78.92,483.50) scale(0.9598,1)" font-size="29.50">8</text>
<text transform="translate(57.58,481.92) scale(0.3653,0.2610)" font-size="100" style="stroke:none">−</text>
</g>
</svg>
</body></html>
